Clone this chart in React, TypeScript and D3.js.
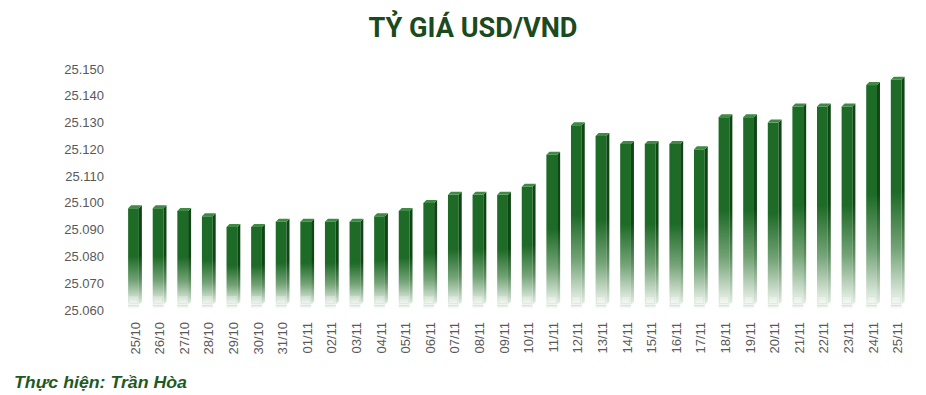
import * as d3 from "d3";
import React from "react";

const days = [
  "25/10", "26/10", "27/10", "28/10", "29/10", "30/10", "31/10",
  "01/11", "02/11", "03/11", "04/11", "05/11", "06/11", "07/11", "08/11", "09/11", "10/11",
  "11/11", "12/11", "13/11", "14/11", "15/11", "16/11", "17/11", "18/11", "19/11", "20/11",
  "21/11", "22/11", "23/11", "24/11", "25/11",
];
const rates = [
  25098, 25098, 25097, 25095, 25091, 25091, 25093,
  25093, 25093, 25093, 25095, 25097, 25100, 25103, 25103, 25103, 25106,
  25118, 25129, 25125, 25122, 25122, 25122, 25120, 25132, 25132, 25130,
  25136, 25136, 25136, 25144, 25146,
];
const yTicks = [25060, 25070, 25080, 25090, 25100, 25110, 25120, 25130, 25140, 25150];

const W = 926;
const H = 395;
const depth = 3;
const baseValue = 25062;

const vn = d3.formatLocale({ decimal: ",", thousands: ".", grouping: [3], currency: ["", ""] });
const fmt = vn.format(",.0f");

export default function App() {
  const x = d3.scaleBand<string>().domain(days).range([122.7, 910]).paddingInner(0.44).paddingOuter(0.22);
  const y = d3.scaleLinear().domain([25060, 25150]).range([310, 69]);
  const bw = x.bandwidth();
  const front = bw - depth;
  const bottom = y(baseValue);

  return (
    <svg width={W} height={H} style={{ position: "absolute", left: 0, top: 0, background: "#fff" }}>
      <defs>
        <linearGradient id="frontG" x1="0" y1="0" x2="0" y2="1">
          <stop offset="0" stopColor="#1e6b27" />
          <stop offset="0.5" stopColor="#1e6b27" />
          <stop offset="0.75" stopColor="#73a376" />
          <stop offset="1" stopColor="#f2f7f2" />
        </linearGradient>
        <linearGradient id="sideG" x1="0" y1="0" x2="0" y2="1">
          <stop offset="0" stopColor="#0e4714" />
          <stop offset="0.5" stopColor="#0e4714" />
          <stop offset="0.75" stopColor="#5d8d60" />
          <stop offset="1" stopColor="#e6efe6" />
        </linearGradient>
        <linearGradient id="floorG" x1="0" y1="0" x2="0" y2="1">
          <stop offset="0" stopColor="#b9d2ba" stopOpacity="0.8" />
          <stop offset="1" stopColor="#ffffff" stopOpacity="0" />
        </linearGradient>
      </defs>

      <text x={473} y={37} textAnchor="middle" fontFamily="Roboto, 'Liberation Sans', sans-serif"
        fontWeight="bold" fontSize={28} fill="#1b4a1e" textLength={209} lengthAdjust="spacingAndGlyphs">
        TỶ GIÁ USD/VND
      </text>

      {yTicks.map((t) => (
        <text key={t} x={104} y={y(t)} dy="0.35em" textAnchor="end"
          fontFamily="'Liberation Sans', Arial, sans-serif" fontSize={13} fill="#595959">
          {fmt(t)}
        </text>
      ))}

      {rates.map((v, i) => {
        const x0 = x(days[i]) as number;
        const top = y(v);
        const h = bottom - top;
        return (
          <g key={days[i]}>
            <rect x={x0} y={bottom} width={front} height={5} fill="url(#floorG)" />
            <rect x={x0} y={top} width={front} height={h} fill="url(#frontG)" />
            <polygon
              points={`${x0 + front},${top} ${x0 + front + depth},${top - depth} ${x0 + front + depth},${bottom - depth} ${x0 + front},${bottom}`}
              fill="url(#sideG)" />
            <polygon
              points={`${x0},${top} ${x0 + depth},${top - depth} ${x0 + front + depth},${top - depth} ${x0 + front},${top}`}
              fill="#3f8a45" />
            <rect x={x0 + 1} y={bottom - 8} width={front - 2} height={7} fill="#ffffff" fillOpacity={0.25}
              stroke="#d6e5d6" strokeWidth={0.6} />
          </g>
        );
      })}

      {days.map((d) => {
        const cx = (x(d) as number) + bw / 2;
        return (
          <text key={d} transform={`translate(${cx},322) rotate(-90)`} dy="0.35em" textAnchor="end"
            fontFamily="'Liberation Sans', Arial, sans-serif" fontSize={13} fill="#595959">
            {d}
          </text>
        );
      })}

      <text x={14} y={388} fontFamily="'Liberation Sans', Arial, sans-serif" fontWeight="bold"
        fontStyle="italic" fontSize={17} fill="#1e5a20" textLength={173} lengthAdjust="spacingAndGlyphs">
        Thực hiện: Trần Hòa
      </text>
    </svg>
  );
}
